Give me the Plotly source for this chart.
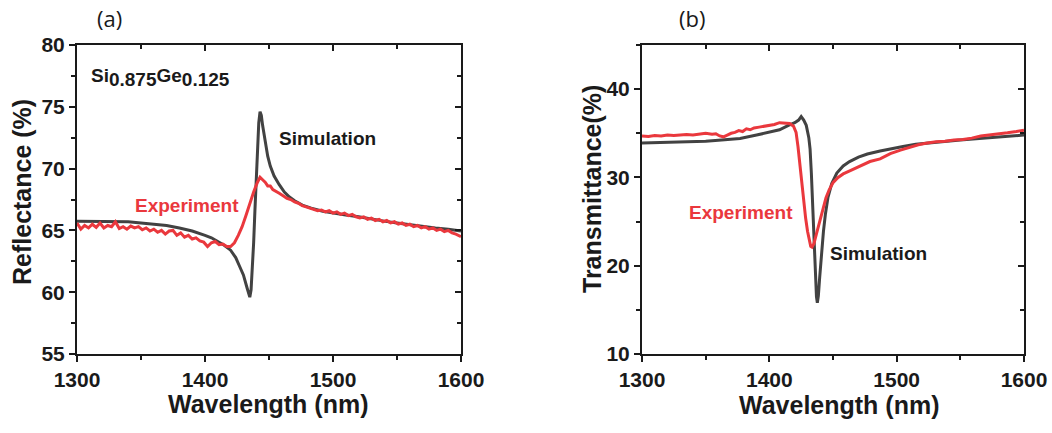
import plotly.graph_objects as go

# ---------------- Data: panel (a) reflectance ----------------
sim_a_wl = [1300, 1320, 1340, 1360, 1370, 1380, 1390, 1400, 1405, 1410, 1415, 1420, 1424, 1427,
            1430, 1433, 1435, 1436, 1437, 1438, 1439, 1440, 1441, 1442, 1443, 1444, 1445, 1447,
            1449, 1451, 1454, 1458, 1462, 1466, 1470, 1476, 1483, 1492, 1500, 1510, 1520, 1530,
            1540, 1550, 1560, 1570, 1580, 1590, 1600]
sim_a_r = [65.75, 65.7, 65.7, 65.5, 65.4, 65.2, 64.95, 64.6, 64.4, 64.1, 63.8, 63.4, 62.8, 62.1,
           61.4, 60.3, 59.6, 60.2, 61.8, 64.0, 66.6, 69.3, 71.8, 73.7, 74.6, 74.3, 73.5, 72.2,
           71.0, 70.2, 69.4, 68.7, 68.1, 67.7, 67.4, 67.05, 66.8, 66.55, 66.4, 66.25, 66.1, 65.9,
           65.75, 65.6, 65.45, 65.35, 65.2, 65.1, 64.95]

exp_a_wl = [1300, 1303, 1306, 1309, 1312, 1315, 1318, 1321, 1324, 1327, 1330, 1333, 1336, 1339,
            1342, 1345, 1348, 1351, 1354, 1357, 1360, 1363, 1366, 1369, 1372, 1375, 1378, 1381,
            1384, 1387, 1390, 1393, 1396, 1399, 1402, 1405, 1408, 1411, 1414, 1417, 1420, 1423,
            1426, 1429, 1432, 1435, 1438, 1441, 1443, 1445, 1447, 1449, 1451, 1453, 1455, 1458,
            1461, 1464, 1467, 1470, 1473, 1476, 1479, 1482, 1485, 1488, 1491, 1494, 1497, 1500,
            1503, 1506, 1509, 1512, 1515, 1518, 1521, 1524, 1527, 1530, 1533, 1536, 1539, 1542,
            1545, 1548, 1551, 1554, 1557, 1560, 1563, 1566, 1569, 1572, 1575, 1578, 1581, 1584,
            1587, 1590, 1593, 1596, 1600]
exp_a_r = [65.6, 65.1, 65.4, 65.2, 65.5, 65.25, 65.6, 65.2, 65.4, 65.3, 65.7, 65.15, 65.3, 65.1,
           65.35, 65.2, 65.3, 65.05, 65.2, 64.95, 65.1, 64.85, 65.0, 64.7, 64.95, 65.0, 64.6, 64.8,
           64.45, 64.6, 64.3, 64.4, 64.15, 64.05, 63.7, 64.0, 64.1, 63.85, 63.9, 63.7, 63.7, 64.0,
           64.6, 65.3, 66.2, 67.2, 68.1, 68.9, 69.3, 69.1, 68.9, 68.6, 68.6, 68.3, 68.2, 68.0,
           67.8, 67.6, 67.5, 67.3, 67.2, 67.0, 66.9, 66.8, 66.7, 66.6, 66.65, 66.5, 66.6, 66.4,
           66.5, 66.3, 66.4, 66.2, 66.3, 66.1, 66.0, 66.1, 65.9, 66.0, 65.8, 65.9, 65.7, 65.8,
           65.6, 65.7, 65.5, 65.6, 65.4, 65.5, 65.3, 65.4, 65.2, 65.3, 65.1, 65.2, 65.0, 65.1,
           64.9, 65.0, 64.8, 64.7, 64.5]

# ---------------- Data: panel (b) transmittance ----------------
sim_b_wl = [1300, 1320, 1340, 1350, 1360, 1377, 1390, 1398, 1408, 1415, 1420, 1423, 1425, 1427,
            1429, 1431, 1432, 1433, 1434, 1435, 1436, 1437, 1437.7, 1438.5, 1439.5, 1441, 1442.5,
            1444, 1446, 1449, 1453, 1458, 1463, 1470, 1477, 1487, 1495, 1505, 1515, 1524, 1535,
            1550, 1565, 1580, 1590, 1600]
sim_b_t = [33.9, 33.95, 34.05, 34.1, 34.2, 34.4, 34.8, 35.05, 35.4, 35.9, 36.2, 36.5, 36.9, 36.5,
           35.9, 34.5, 33.2, 30.5, 26.5, 22.5, 19.3, 16.5, 15.8, 16.6, 18.6, 21.5, 23.9,
           25.8, 27.7, 29.3, 30.5, 31.3, 31.8, 32.3, 32.65, 33.0, 33.25, 33.5, 33.75, 33.9, 34.05,
           34.25, 34.4, 34.55, 34.65, 34.8]

exp_b_wl = [1300, 1305, 1310, 1315, 1320, 1325, 1330, 1335, 1340, 1345, 1350, 1355, 1358, 1361,
            1364, 1367, 1370, 1373, 1376, 1379, 1382, 1385, 1388, 1392, 1396, 1400, 1404, 1408,
            1412, 1416, 1419, 1421, 1422.5, 1424, 1425.5, 1427, 1428.5, 1430, 1431.5, 1432.5,
            1433.5, 1435, 1437, 1439.5, 1442, 1444.5, 1447, 1450, 1454, 1458, 1464, 1471, 1479,
            1487, 1495, 1503, 1510, 1517, 1524, 1531, 1538, 1545, 1552, 1559, 1566, 1573, 1580,
            1587, 1594, 1600]
exp_b_t = [34.7, 34.65, 34.75, 34.7, 34.8, 34.75, 34.8, 34.85, 34.8, 34.9, 35.0, 34.9, 34.95, 34.7,
           34.6, 34.8, 35.0, 35.1, 35.3, 35.2, 35.5, 35.4, 35.6, 35.7, 35.8, 35.95, 36.0, 36.2,
           36.15, 36.1, 35.8, 35.1, 33.5, 31.3, 29.2, 27.2, 25.4, 23.9, 22.7, 22.2,
           22.1, 22.5, 23.6, 24.9, 26.4, 27.7, 28.6, 29.4, 30.0, 30.4, 30.8, 31.3, 31.8,
           32.1, 32.7, 33.1, 33.4, 33.7, 33.9, 34.05, 34.1, 34.25, 34.3, 34.45, 34.7, 34.8, 34.9,
           35.05, 35.2, 35.35]

x_range = [1300, 1600]
ya_range = [55, 80]
yb_range = [10, 45]

SIM = "#424242"
EXP = "#EA383D"
INK = "#1a1a1a"
FONT = "Liberation Sans, Arial, sans-serif"
W, H = 1052, 433

fig = go.Figure()
fig.add_trace(go.Scatter(x=sim_a_wl, y=sim_a_r, mode="lines", line=dict(color=SIM, width=3),
                         xaxis="x", yaxis="y", showlegend=False))
fig.add_trace(go.Scatter(x=exp_a_wl, y=exp_a_r, mode="lines", line=dict(color=EXP, width=3),
                         xaxis="x", yaxis="y", showlegend=False))
fig.add_trace(go.Scatter(x=sim_b_wl, y=sim_b_t, mode="lines", line=dict(color=SIM, width=3),
                         xaxis="x2", yaxis="y2", showlegend=False))
fig.add_trace(go.Scatter(x=exp_b_wl, y=exp_b_t, mode="lines", line=dict(color=EXP, width=3),
                         xaxis="x2", yaxis="y2", showlegend=False))

# invisible carriers so that the mirrored (inward) tick axes are drawn
for xa, ya, xs, ys in [("x3", "y", sim_a_wl, sim_a_r), ("x", "y3", sim_a_wl, sim_a_r),
                       ("x4", "y2", sim_b_wl, sim_b_t), ("x2", "y4", sim_b_wl, sim_b_t)]:
    fig.add_trace(go.Scatter(x=xs, y=ys, mode="lines", line=dict(color="rgba(0,0,0,0)", width=0),
                             xaxis=xa, yaxis=ya, showlegend=False, hoverinfo="skip"))

dom_xa = [77 / W, 461 / W]
dom_xb = [642 / W, 1024 / W]
dom_y = [1 - 354 / H, 1 - 45 / H]

tickfont = dict(family=FONT, size=21, color=INK, weight="bold")


def main_x(anchor, dom):
    return dict(domain=dom, range=x_range, anchor=anchor, dtick=100, tick0=1300,
                ticks="outside", ticklen=6, tickwidth=2, tickcolor=INK,
                minor=dict(dtick=50, ticks="outside", ticklen=4, tickwidth=2, tickcolor=INK),
                showline=True, linewidth=2, linecolor=INK, mirror=True,
                showgrid=False, zeroline=False, tickfont=tickfont, automargin=False)


def main_y(anchor, rng, dt):
    return dict(domain=dom_y, range=rng, anchor=anchor, dtick=dt, tick0=rng[0],
                ticks="outside", ticklen=6, tickwidth=2, tickcolor=INK,
                minor=dict(dtick=dt / 2, ticks="outside", ticklen=4, tickwidth=2, tickcolor=INK),
                showline=True, linewidth=2, linecolor=INK, mirror=True,
                showgrid=False, zeroline=False, tickfont=tickfont, automargin=False)


def over_x(over, anchor):
    return dict(overlaying=over, side="top", anchor=anchor, range=x_range, dtick=100, tick0=1300,
                ticks="inside", ticklen=6, tickwidth=2, tickcolor=INK,
                minor=dict(dtick=50, ticks="inside", ticklen=4, tickwidth=2, tickcolor=INK),
                showticklabels=False, showline=False, showgrid=False, zeroline=False,
                automargin=False)


def over_y(over, anchor, rng, dt):
    return dict(overlaying=over, side="right", anchor=anchor, range=rng, dtick=dt, tick0=rng[0],
                ticks="inside", ticklen=6, tickwidth=2, tickcolor=INK,
                minor=dict(dtick=dt / 2, ticks="inside", ticklen=4, tickwidth=2, tickcolor=INK),
                showticklabels=False, showline=False, showgrid=False, zeroline=False,
                automargin=False)


fig.update_layout(
    width=W, height=H, margin=dict(l=0, r=0, t=0, b=0),
    paper_bgcolor="white", plot_bgcolor="white",
    xaxis=main_x("y", dom_xa), yaxis=main_y("x", ya_range, 5),
    xaxis2=main_x("y2", dom_xb), yaxis2=main_y("x2", yb_range, 10),
    xaxis3=over_x("x", "y"), yaxis3=over_y("y", "x", ya_range, 5),
    xaxis4=over_x("x2", "y2"), yaxis4=over_y("y2", "x2", yb_range, 10),
)

title_font = dict(family=FONT, size=25, color=INK, weight="bold")
label_font = dict(family=FONT, size=19, color=INK, weight="bold")
exp_font = dict(family=FONT, size=19, color=EXP, weight="bold")
panel_font = dict(family="Open Sans, Liberation Sans, sans-serif", size=22, color=INK)

ann = [
    dict(text="Wavelength (nm)", x=268 / W, y=1 - 404 / H, xref="paper", yref="paper",
         showarrow=False, font=title_font, xanchor="center", yanchor="middle"),
    dict(text="Wavelength (nm)", x=839 / W, y=1 - 405 / H, xref="paper", yref="paper",
         showarrow=False, font=title_font, xanchor="center", yanchor="middle"),
    dict(text="Reflectance (%)", x=22 / W, y=1 - 192 / H, xref="paper", yref="paper",
         showarrow=False, font=title_font, textangle=-90, xanchor="center", yanchor="middle"),
    dict(text="Transmittance(%)", x=592 / W, y=1 - 189 / H, xref="paper", yref="paper",
         showarrow=False, font=title_font, textangle=-90, xanchor="center", yanchor="middle"),
    dict(text="(a)", x=109 / W, y=1 - 18 / H, xref="paper", yref="paper",
         showarrow=False, font=panel_font, xanchor="center", yanchor="middle"),
    dict(text="(b)", x=692 / W, y=1 - 18 / H, xref="paper", yref="paper",
         showarrow=False, font=panel_font, xanchor="center", yanchor="middle"),
    dict(text="Si<sub><span style='font-size:19px'>0.875</span></sub>Ge<sub><span style='font-size:19px'>0.125</span></sub>",
         x=1309, y=77.4, xref="x", yref="y", showarrow=False, font=label_font,
         xanchor="left", yanchor="middle"),
    dict(text="Simulation", x=1456, y=72.4, xref="x", yref="y", showarrow=False,
         font=label_font, xanchor="left", yanchor="middle"),
    dict(text="Experiment", x=1428, y=67.0, xref="x", yref="y", showarrow=False,
         font=exp_font, xanchor="right", yanchor="middle"),
    dict(text="Experiment", x=1420, y=26.0, xref="x2", yref="y2", showarrow=False,
         font=exp_font, xanchor="right", yanchor="middle"),
    dict(text="Simulation", x=1446, y=21.35, xref="x2", yref="y2", showarrow=False,
         font=label_font, xanchor="left", yanchor="middle"),
]
fig.update_layout(annotations=ann)

fig.write_html("out.html", post_script="document.body.style.margin='0px';",
               config={"displayModeBar": False})
